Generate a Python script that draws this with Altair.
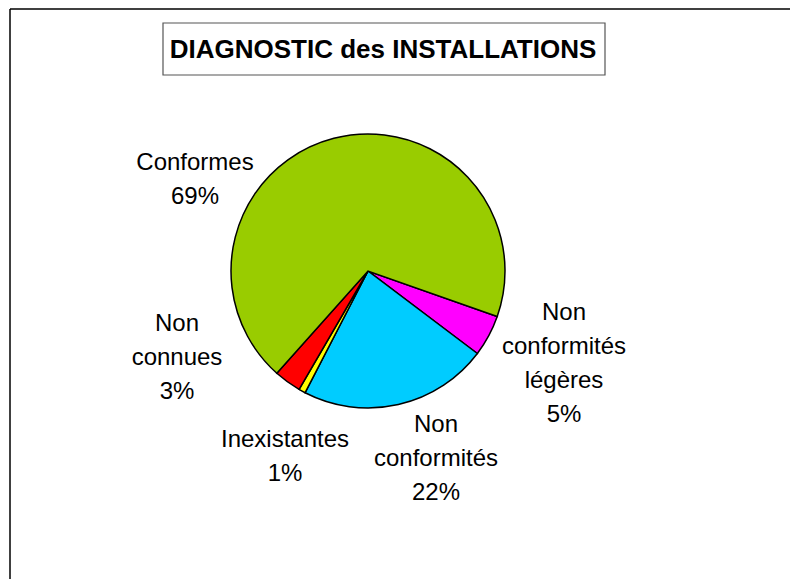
import math
import altair as alt
import pandas as pd

# ---- data ----
categories = ["Non conformités légères", "Non conformités", "Inexistantes", "Non connues", "Conformes"]
values = [4.9, 22.3, 0.8, 3.2, 68.8]
colors = ["#FF00FF", "#00CCFF", "#FFFF00", "#FF0000", "#99CC00"]
label_lines = [["Non", "conformités", "légères"], ["Non", "conformités"], ["Inexistantes"], ["Non", "connues"], ["Conformes"]]
title_text = "DIAGNOSTIC des INSTALLATIONS"

# ---- layout ----
W, H = 782, 571
CX, CY, R = 360, 263, 137
START = math.radians(109.4)
label_x = [556, 428, 277, 169, 187]
label_y = [312, 424, 439, 323, 162]
FONT = "Liberation Sans"

df = pd.DataFrame({
    "cat": categories,
    "value": values,
    "order": list(range(len(categories))),
})
lab = pd.DataFrame({
    "text": ["\n".join(l + [f"{round(v)}%"]) for l, v in zip(label_lines, values)],
    "lx": label_x,
    "ly": label_y,
})
one = pd.DataFrame({"a": [0]})

pie = alt.Chart(df).mark_arc(outerRadius=R, stroke="black", strokeWidth=1.5).encode(
    theta=alt.Theta("value:Q", stack=True, scale=alt.Scale(range=[START, START + 2 * math.pi])),
    order=alt.Order("order:Q"),
    color=alt.Color("cat:N", scale=alt.Scale(domain=categories, range=colors), legend=None),
    x=alt.value(CX),
    y=alt.value(CY),
)

labels = alt.Chart(lab).mark_text(
    font=FONT, fontSize=24, lineBreak="\n", lineHeight=34, align="center", baseline="alphabetic", color="black"
).encode(
    x=alt.X("lx:Q", scale=None),
    y=alt.Y("ly:Q", scale=None),
    text="text:N",
)

title_box = alt.Chart(one).mark_rect(fill="white", stroke="#555555", strokeWidth=1.2).encode(
    x=alt.value(155), x2=alt.value(597), y=alt.value(15), y2=alt.value(67)
)
title = alt.Chart(one).mark_text(
    font=FONT, fontSize=26, fontWeight="bold", align="center", baseline="alphabetic", color="black"
).encode(x=alt.value(375), y=alt.value(50), text=alt.value(title_text))

frame_left = alt.Chart(one).mark_rule(color="black", strokeWidth=1.5).encode(
    x=alt.value(2), y=alt.value(1), y2=alt.value(H)
)
frame_top = alt.Chart(one).mark_rule(color="black", strokeWidth=1.5).encode(
    x=alt.value(2), x2=alt.value(W), y=alt.value(1)
)

chart = alt.layer(frame_left, frame_top, title_box, title, pie, labels).properties(
    width=W, height=H, padding=0, autosize=alt.AutoSizeParams(type="none"), background="white"
).configure_view(stroke=None)

chart.save("out.html", embed_options={"renderer": "svg", "actions": False})
